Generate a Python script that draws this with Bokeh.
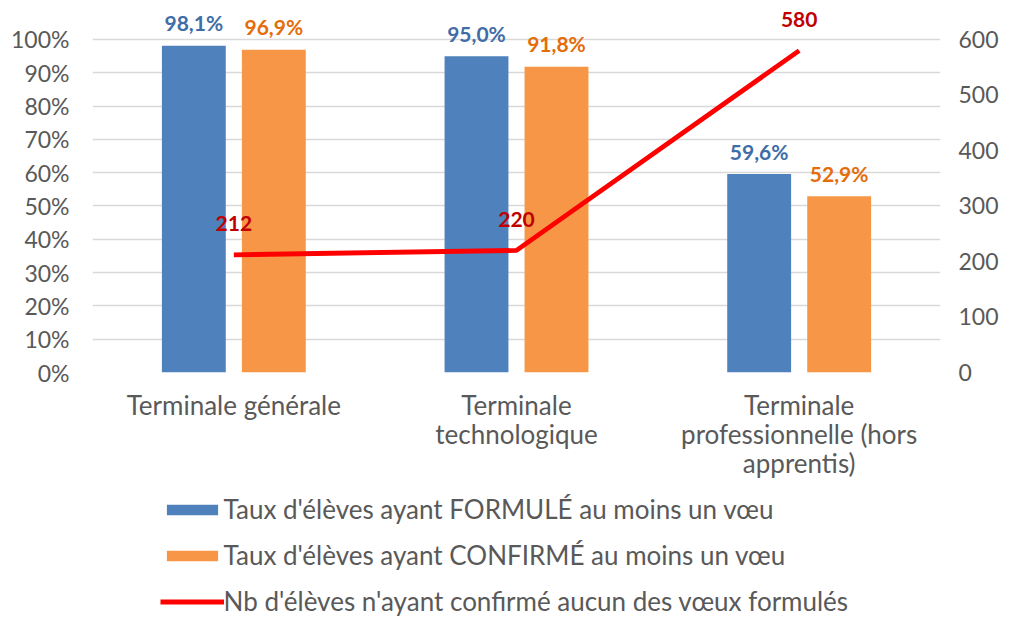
from bokeh.plotting import figure
from bokeh.layouts import column
from bokeh.models import (Range1d, LinearAxis, FixedTicker, NumeralTickFormatter,
                          Legend, LegendItem, ColumnDataSource, FactorRange)
from bokeh.transform import dodge
from bokeh.core.properties import value
from bokeh.embed import file_html
from bokeh.resources import INLINE

categories = ["Terminale générale", "Terminale\ntechnologique",
              "Terminale\nprofessionnelle (hors\napprentis)"]
taux_formule = [0.981, 0.950, 0.596]
taux_confirme = [0.969, 0.918, 0.529]
nb_aucun = [212, 220, 580]
left_ticks = [0, 0.1, 0.2, 0.3, 0.4, 0.5, 0.6, 0.7, 0.8, 0.9, 1.0]
right_ticks = [0, 100, 200, 300, 400, 500, 600]
legend_labels = ["Taux d'élèves ayant FORMULÉ au moins un vœu",
                 "Taux d'élèves ayant CONFIRMÉ au moins un vœu",
                 "Nb d'élèves n'ayant confirmé aucun des vœux formulés"]

def pct(v):
    return f"{v*100:.1f}%".replace(".", ",")

src = ColumnDataSource(dict(
    cat=categories,
    formule=taux_formule,
    confirme=taux_confirme,
    aucun=nb_aucun,
    formule_lbl=[pct(v) for v in taux_formule],
    confirme_lbl=[pct(v) for v in taux_confirme],
    aucun_lbl=[str(v) for v in nb_aucun],
))

FONT = "Lato"
GREY = "#595959"
BLUE = "#4F81BD"
ORANGE = "#F79646"
RED = "#FF0000"
W = 1009

top_pad = 1.1021
xr = FactorRange(*categories, range_padding=0)
p = figure(width=W, height=482, x_range=xr,
           y_range=Range1d(0, top_pad), output_backend="svg", toolbar_location=None,
           min_border_left=92, min_border_right=69, min_border_top=5, min_border_bottom=110)
p.extra_y_ranges = {"right": Range1d(0, 600 * top_pad)}
p.outline_line_color = None
p.xgrid.grid_line_color = None
p.ygrid.grid_line_color = "#D9D9D9"
p.ygrid.grid_line_width = 1.5
p.ygrid.ticker = FixedTicker(ticks=left_ticks)

p.yaxis.ticker = FixedTicker(ticks=left_ticks)
p.yaxis.formatter = NumeralTickFormatter(format="0%")
for ax in [p.yaxis[0], p.xaxis[0]]:
    ax.axis_line_color = None
    ax.major_tick_line_color = None
    ax.minor_tick_line_color = None
    ax.major_label_text_font = FONT
    ax.major_label_text_color = GREY
p.yaxis.major_label_text_font_size = "23px"
p.yaxis.major_label_standoff = 17
p.xaxis.major_label_text_font_size = "26px"
p.xaxis.major_label_standoff = 10
p.xaxis.major_label_text_line_height = 0.92

ra = LinearAxis(y_range_name="right", ticker=FixedTicker(ticks=right_ticks))
ra.axis_line_color = None
ra.major_tick_line_color = None
ra.minor_tick_line_color = None
ra.major_label_text_font = FONT
ra.major_label_text_font_size = "23px"
ra.major_label_text_color = GREY
ra.major_label_standoff = 12
p.add_layout(ra, "right")

off = 0.1415
w = 0.226
p.vbar(x=dodge("cat", -off, range=xr), top="formule", width=w, source=src,
       fill_color=BLUE, line_color=None)
p.vbar(x=dodge("cat", off, range=xr), top="confirme", width=w, source=src,
       fill_color=ORANGE, line_color=None)
p.line(x="cat", y="aucun", y_range_name="right", source=src, line_color=RED, line_width=4.8)

p.text(x=dodge("cat", -off, range=xr), y="formule", text="formule_lbl", source=src,
       y_offset=-23, text_align="center", text_baseline="middle", text_font=value(FONT),
       text_font_style="bold", text_font_size="21px", text_color="#3F6DA8")
p.text(x=dodge("cat", off, range=xr), y="confirme", text="confirme_lbl", source=src,
       y_offset=-23, text_align="center", text_baseline="middle", text_font=value(FONT),
       text_font_style="bold", text_font_size="21px", text_color="#E46C0A")
p.text(x="cat", y="aucun", text="aucun_lbl", source=src, y_range_name="right",
       y_offset=-31, text_align="center", text_baseline="middle", text_font=value(FONT),
       text_font_style="bold", text_font_size="21px", text_color="#C00000")

# legend panel: the same series drawn below this panel's visible range, so only
# the legend entries show
p2 = figure(width=W, height=135, x_range=xr, y_range=Range1d(50, 60),
            output_backend="svg", toolbar_location=None,
            x_axis_location=None, y_axis_location=None,
            min_border_left=0, min_border_right=0, min_border_top=0, min_border_bottom=0)
p2.extra_y_ranges = {"r": Range1d(50000, 60000)}
p2.outline_line_color = None
p2.grid.grid_line_color = None
l1 = p2.vbar(x=dodge("cat", -off, range=xr), top="formule", width=w, source=src,
             fill_color=BLUE, line_color=None)
l2 = p2.vbar(x=dodge("cat", off, range=xr), top="confirme", width=w, source=src,
             fill_color=ORANGE, line_color=None)
l3 = p2.line(x="cat", y="aucun", y_range_name="r", source=src, line_color=RED, line_width=4.8)

legend = Legend(items=[LegendItem(label=legend_labels[0], renderers=[l1]),
                       LegendItem(label=legend_labels[1], renderers=[l2]),
                       LegendItem(label=legend_labels[2], renderers=[l3])],
                location=(67.6, 0), orientation="vertical",
                label_text_font=FONT, label_text_font_size="26px", label_text_color=GREY,
                glyph_width=64, glyph_height=13, label_height=13, label_standoff=0,
                spacing=14, padding=0, margin=0, border_line_color=None,
                background_fill_alpha=0)
p2.add_layout(legend, "center")

open("out.html", "w").write(file_html(column(p, p2, spacing=0), INLINE))
